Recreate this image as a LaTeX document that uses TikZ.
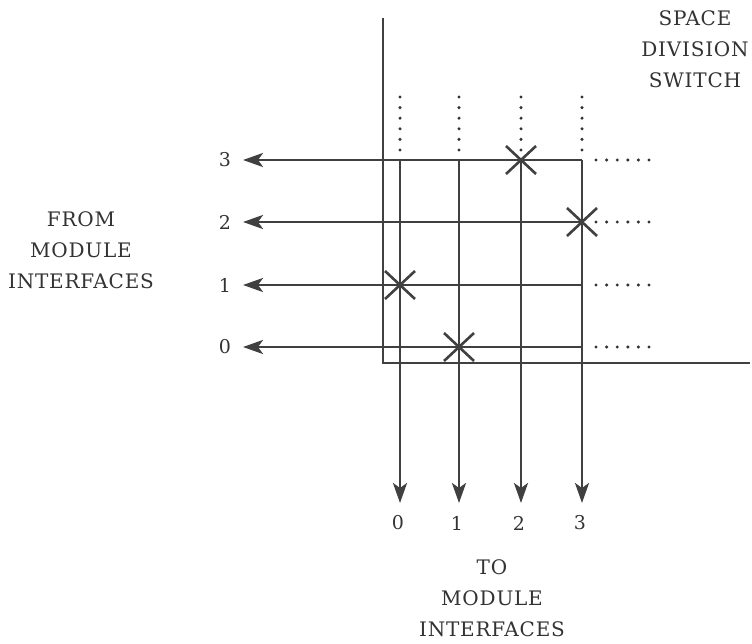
\documentclass[tikz,border=0pt]{standalone}
\usepackage{fontspec}
\setmainfont{DejaVu Serif}[LetterSpace=4]
\usetikzlibrary{arrows.meta}
\begin{document}
\begin{tikzpicture}[x=1pt,y=-1pt,
  wire/.style={line width=2.8pt,draw=black!75},
  arr/.style={wire,-{Stealth[length=20pt,width=14pt,inset=5pt]}},
  dots/.style={line width=3.4pt,draw=black!80,line cap=round,dash pattern=on 0pt off 10.6pt},
  xmark/.style={line width=2.6pt,draw=black!75},
  lbl/.style={font=\fontsize{20}{31}\selectfont,text=black!80,align=center,inner sep=0pt},
  num/.style={font=\fontsize{19}{20}\selectfont,text=black!80,inner sep=0pt}]
\useasboundingbox (0,0) rectangle (752,644);
% frame L
\coordinate (ft) at (383,18);
\coordinate (fc) at (383,363);
\coordinate (fr) at (750,363);
\draw[wire,line join=miter] (ft) -- (fc) -- (fr);
% rows
\foreach \i/\y in {3/160,2/222,1/285,0/347}{
  \coordinate (re\i) at (582,\y);
  \coordinate (rw\i) at (243,\y);
  \coordinate (rd\i) at (596,\y);
  \coordinate (rdd\i) at (650,\y);
  \draw[arr] (re\i) -- (rw\i);
  \draw[dots] (rd\i) -- (rdd\i);
  \node[num] (rl\i) at (225,\y) {\i};
}
% columns
\foreach \j/\x in {0/400,1/459,2/521,3/582}{
  \coordinate (ct\j) at (\x,160);
  \coordinate (cb\j) at (\x,503);
  \coordinate (cd\j) at (\x,97);
  \coordinate (cdd\j) at (\x,150);
  \draw[arr] (ct\j) -- (cb\j);
  \draw[dots] (cd\j) -- (cdd\j);
  \node[num] (cl\j) at (\x-2,523) {\j};
}
% crosspoints
\foreach \n/\x/\y in {a/521/160,b/582/222,c/400/285,d/459/347}{
  \coordinate (x\n) at (\x,\y);
  \draw[xmark] ([shift={(-15,-14)}]x\n) -- ([shift={(15,14)}]x\n);
  \draw[xmark] ([shift={(-15,14)}]x\n) -- ([shift={(15,-14)}]x\n);
}
% labels
\node[lbl] (sds) at (695,49) {SPACE\\DIVISION\\SWITCH};
\node[lbl] (from) at (81,250) {FROM\\MODULE\\INTERFACES};
\node[lbl] (to) at (492,598) {TO\\MODULE\\INTERFACES};
\end{tikzpicture}
\end{document}
